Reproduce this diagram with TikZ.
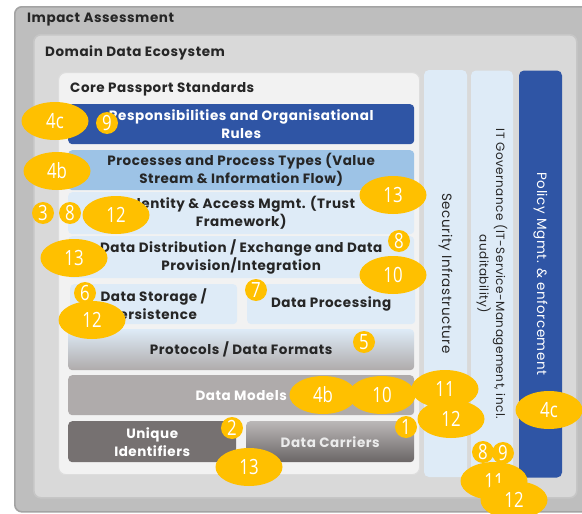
\documentclass[tikz,border=0pt]{standalone}
\usepackage{fontspec}
\setmainfont{Poppins}[LetterSpace=4]
\newfontfamily\numfont[FakeStretch=0.8]{Open Sans}
\usetikzlibrary{shapes.geometric}

\definecolor{frameOuter}{HTML}{BEBEBE}
\definecolor{frameOuterLine}{HTML}{A3A3A3}
\definecolor{frameDomain}{HTML}{D9D9D9}
\definecolor{frameDomainLine}{HTML}{C6C6C6}
\definecolor{frameCore}{HTML}{F2F2F2}
\definecolor{frameCoreLine}{HTML}{DDDDDD}
\definecolor{darkBlue}{HTML}{2F55A5}
\definecolor{midBlue}{HTML}{9DC3E6}
\definecolor{paleBlue}{HTML}{DEEBF7}
\definecolor{warmGray}{HTML}{AFABAB}
\definecolor{darkGray}{HTML}{767171}
\definecolor{markYellow}{HTML}{FFC000}
\definecolor{inkText}{HTML}{262626}

\tikzset{
  framebox/.style={anchor=north west, rounded corners=7pt, line width=1.6pt, inner sep=0pt},
  frametitle/.style={anchor=west, inner sep=0pt, text=inkText,
    font=\bfseries\fontsize{13.5}{15}\selectfont},
  stdbar/.style={anchor=north west, rounded corners=4pt, align=center, inner sep=0pt,
    text=inkText, font=\bfseries\fontsize{13.5}{18}\selectfont},
  colbar/.style={rotate=-90, rounded corners=5pt, align=center, inner sep=0pt,
    minimum width=407pt, text=inkText, font=\fontsize{13.5}{17}\selectfont},
  bignum/.style={ellipse, fill=markYellow, text=white, inner sep=0pt,
    minimum width=67pt, minimum height=38pt, font=\numfont\fontsize{21}{21}\selectfont},
  smallnum/.style={circle, fill=markYellow, text=white, inner sep=0pt,
    minimum size=22pt, font=\numfont\fontsize{21}{21}\selectfont},
}

\begin{document}
\begin{tikzpicture}[x=1pt, y=-1pt]
    \useasboundingbox (0,0) rectangle (582,514);

    % Nested frames
    \node[framebox, draw=frameOuterLine, fill=frameOuter, minimum width=590pt, minimum height=505pt] (impact) at (14,6) {};
    \node[frametitle] (impactTitle) at ([shift={(13,14)}]impact.north west) {Impact Assessment};
    \node[framebox, draw=frameDomainLine, fill=frameDomain, minimum width=543pt, minimum height=463pt] (domain) at (33,34) {};
    \node[frametitle] (domainTitle) at ([shift={(12,19)}]domain.north west) {Domain Data Ecosystem};
    \node[framebox, draw=frameCoreLine, fill=frameCore, line width=1.2pt, minimum width=361pt, minimum height=402pt] (core) at (58,72) {};
    \node[frametitle] (coreTitle) at ([shift={(12,17)}]core.north west) {Core Passport Standards};

    % Layers of the core standards
    \node[stdbar, fill=darkBlue, text=white, minimum width=346pt, minimum height=40pt] (resp) at (68,104) {Responsibilities and Organisational\\Rules};
    \node[stdbar, fill=midBlue, minimum width=346pt, minimum height=40pt] (proc) at (68,150) {Processes and Process Types (Value\\Stream \& Information Flow)};
    \node[stdbar, fill=paleBlue, minimum width=346pt, minimum height=42pt] (ident) at (68,192) {Identity \& Access Mgmt. (Trust\\Framework)};
    \node[stdbar, fill=paleBlue, minimum width=346pt, minimum height=42pt] (distr) at (68,236) {Data Distribution / Exchange and Data\\Provision/Integration};
    \node[stdbar, fill=paleBlue, minimum width=167pt, minimum height=40pt] (storage) at (70,284) {Data Storage /\\Persistence};
    \node[stdbar, fill=paleBlue, minimum width=168pt, minimum height=40pt] (processing) at (247,284) {Data Processing};
    \node[stdbar, top color=paleBlue, middle color=paleBlue, bottom color=warmGray, minimum width=346pt, minimum height=41pt] (protocols) at (68,329) {\raisebox{-3pt}{Protocols / Data Formats}};
    \node[stdbar, fill=warmGray, text=white, minimum width=346pt, minimum height=40pt] (models) at (68,375) {Data Models};
    \node[stdbar, fill=darkGray, text=white, minimum width=168pt, minimum height=41pt] (uid) at (68,421) {Unique\\Identifiers};
    \node[stdbar, top color=warmGray!85!white, bottom color=darkGray!90!black, text=white!92!black, minimum width=168pt, minimum height=41pt] (carriers) at (246,421) {Data Carriers};

    % Vertical pillars
    \node[colbar, fill=paleBlue, minimum height=43pt] (security) at (445.5,273.5) {Security Infrastructure};
    \node[colbar, fill=paleBlue, minimum height=42pt, font=\fontsize{12}{16.5}\selectfont] (itgov) at (492,274) {IT Governance (IT-Service-Management, incl.\\auditability)};
    \node[colbar, fill=darkBlue, text=white, minimum height=43pt] (policy) at (540.5,274) {Policy Mgmt. \& enforcement};

    % Markers
    \node[bignum] (respA) at (55,121) {4c};
    \node[smallnum] (respB) at (107,123) {9};
    \node[bignum] (procA) at (57,171) {4b};
    \node[smallnum] (identA) at (43,213) {3};
    \node[smallnum] (identB) at (70,213) {8};
    \node[bignum] (identC) at (116,215) {12};
    \node[bignum] (identD) at (393,195) {13};
    \node[smallnum] (distrA) at (399,241) {8};
    \node[bignum] (distrB) at (74,258) {13};
    \node[bignum] (distrC) at (393,275) {10};
    \node[smallnum] (storageA) at (85,293) {6};
    \node[smallnum] (processingA) at (256,290) {7};
    \node[bignum] (storageB) at (92,320) {12};
    \node[smallnum] (protocolsA) at (364,342) {5};
    \node[bignum] (modelsA) at (323,395) {4b};
    \node[bignum] (modelsB) at (382,395) {10};
    \node[smallnum] (carriersA) at (406,427) {1};
    \node[bignum] (modelsC) at (445,389) {11};
    \node[bignum] (carriersB) at (451,419) {12};
    \node[bignum] (policyA) at (549,410) {4c};
    \node[smallnum] (uidA) at (232,428) {2};
    \node[bignum] (uidB) at (249,467) {13};
    \node[smallnum] (itgovA) at (483,452) {8};
    \node[smallnum] (itgovB) at (503,453) {9};
    \node[bignum] (itgovC) at (494,481) {11};
    \node[bignum] (itgovD) at (514,500) {12};
\end{tikzpicture}
\end{document}
